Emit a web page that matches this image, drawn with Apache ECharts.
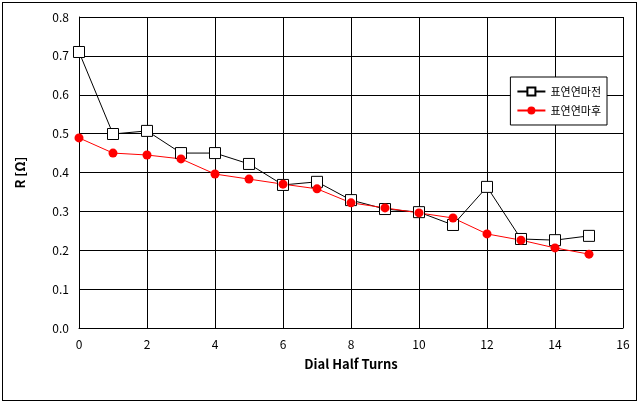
<!DOCTYPE html>
<html><head><meta charset="utf-8">
<script src="https://cdn.jsdelivr.net/npm/echarts@6/dist/echarts.min.js"></script>
<style>html,body{margin:0;padding:0;background:#fff}
#frame{position:absolute;left:2px;top:2px;width:635px;height:399px;border:1px solid #000;box-sizing:border-box}
#chart{width:641px;height:405px}</style>
</head><body>
<div id="frame"></div>
<div id="chart"></div>
<script>
var turns = [0, 1, 2, 3, 4, 5, 6, 7, 8, 9, 10, 11, 12, 13, 14, 15];
var before = [0.71, 0.499, 0.507, 0.45, 0.45, 0.422, 0.368, 0.376, 0.329, 0.306, 0.298, 0.265, 0.363, 0.229, 0.226, 0.237];
var after = [0.489, 0.45, 0.445, 0.435, 0.396, 0.383, 0.37, 0.358, 0.322, 0.309, 0.296, 0.283, 0.242, 0.226, 0.206, 0.19];

function pairs(ys) {
  return turns.map(function (x, i) { return [x, ys[i]]; });
}

var font = 'Noto Sans CJK KR';
var option = {
  animation: false,
  textStyle: { fontFamily: font },
  grid: { left: 79, right: 18, top: 17, bottom: 77 },
  legend: {
    right: 34, top: 77, orient: 'vertical', backgroundColor: '#fff',
    borderColor: '#000', borderWidth: 1, padding: [9, 6], itemGap: 8,
    itemWidth: 28, itemHeight: 10,
    textStyle: { fontSize: 11, color: '#000', fontFamily: font },
    data: ['표연연마전', '표연연마후']
  },
  xAxis: {
    type: 'value', min: 0, max: 16, interval: 2,
    name: 'Dial Half Turns', nameLocation: 'middle', nameGap: 30,
    nameTextStyle: { fontSize: 13, fontWeight: 'bold', color: '#000' },
    axisLine: { lineStyle: { color: '#000' } },
    axisTick: { inside: true, length: 4, lineStyle: { color: '#000' } },
    axisLabel: { color: '#000', fontSize: 12, margin: 10 },
    splitLine: { lineStyle: { color: '#000' } }
  },
  yAxis: {
    type: 'value', min: 0, max: 0.8, interval: 0.1,
    name: 'R [Ω]', nameLocation: 'middle', nameGap: 52, nameRotate: 90,
    nameTextStyle: { fontSize: 13, fontWeight: 'bold', color: '#000' },
    axisLine: { show: true, lineStyle: { color: '#000' } },
    axisTick: { inside: true, length: 4, lineStyle: { color: '#000' } },
    axisLabel: { color: '#000', fontSize: 12, margin: 10, formatter: function (v) { return v.toFixed(1); } },
    splitLine: { lineStyle: { color: '#000' } }
  },
  series: [
    {
      name: '표연연마전', type: 'line', data: pairs(before),
      symbol: 'rect', symbolSize: 11,
      lineStyle: { color: '#000', width: 1 },
      itemStyle: { color: '#fff', borderColor: '#000', borderWidth: 1 }
    },
    {
      name: '표연연마후', type: 'line', data: pairs(after),
      symbol: 'circle', symbolSize: 9,
      lineStyle: { color: '#ff0000', width: 1 },
      itemStyle: { color: '#ff0000' }
    }
  ]
};
echarts.init(document.getElementById('chart')).setOption(option);
</script>
</body></html>
